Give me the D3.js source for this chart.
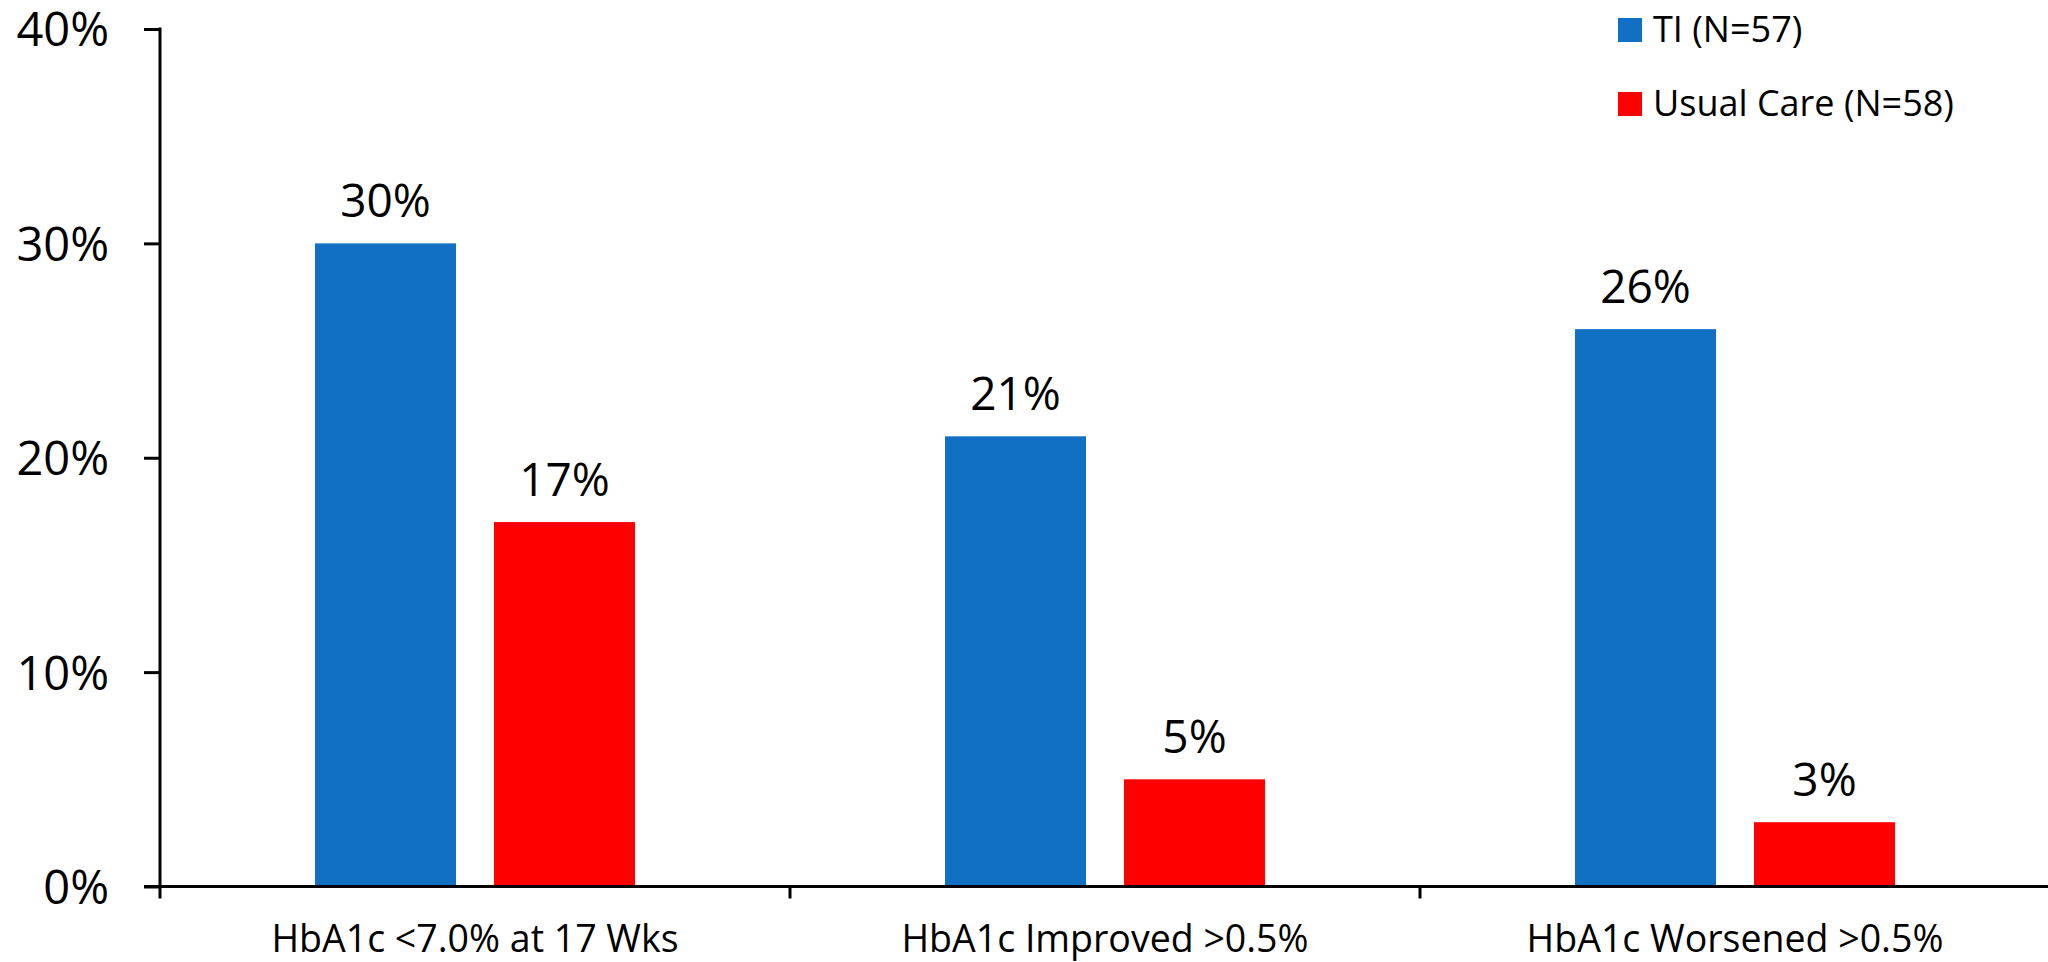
<!DOCTYPE html>
<html>
<head>
<meta charset="utf-8">
<script src="https://cdn.jsdelivr.net/npm/d3@7"></script>
<style>
  html, body { margin: 0; padding: 0; background: #ffffff; }
  svg { display: block; }
  text { font-family: "Open Sans", "Noto Sans", sans-serif; fill: #000; }
</style>
</head>
<body>
<svg id="chart" width="2048" height="962"></svg>
<script>
// Share of patients reaching each HbA1c outcome, by study arm
const categories = ["HbA1c <7.0% at 17 Wks", "HbA1c Improved >0.5%", "HbA1c Worsened >0.5%"];
const seriesNames = ["TI (N=57)", "Usual Care (N=58)"];
const tiValues = [30, 21, 26];
const usualCareValues = [17, 5, 3];
const yTicks = [0, 10, 20, 30, 40];
const seriesColors = ["#1270C4", "#FF0000"];

const seriesValues = [tiValues, usualCareValues];
const rows = categories.map((c, i) => ({
  category: c,
  values: seriesNames.map((s, j) => ({ series: s, value: seriesValues[j][i], color: seriesColors[j] }))
}));

const svg = d3.select("#chart");

const axisX = 160;          // left edge of plot
const plotRight = 2050;
const y = d3.scaleLinear().domain([0, 40]).range([886.5, 29]);
const x0 = d3.scaleBand().domain(categories).range([axisX, plotRight]).paddingInner(0).paddingOuter(0);
const x1 = d3.scaleBand().domain(seriesNames).range([0, x0.bandwidth()])
  .paddingInner(0.2123).paddingOuter(0.866);

// Bars
const groups = svg.append("g").selectAll("g").data(rows).join("g")
  .attr("transform", d => `translate(${x0(d.category)},0)`);

groups.selectAll("rect").data(d => d.values).join("rect")
  .attr("x", d => x1(d.series))
  .attr("y", d => y(d.value))
  .attr("width", x1.bandwidth())
  .attr("height", d => y(0) - y(d.value))
  .attr("fill", d => d.color);

// Value labels above bars
groups.selectAll("text.val").data(d => d.values).join("text")
  .attr("class", "val")
  .attr("x", d => x1(d.series) + x1.bandwidth() / 2)
  .attr("y", d => y(d.value) - 26)
  .attr("text-anchor", "middle")
  .style("font-size", "46px")
  .text(d => d.value + "%");

// Y axis
const yAxis = d3.axisLeft(y).tickValues(yTicks).tickSize(16).tickPadding(35)
  .tickFormat(d => d + "%");
const gy = svg.append("g").attr("transform", `translate(${axisX},0)`).call(yAxis);
gy.select(".domain").remove();
gy.selectAll(".tick line").attr("stroke", "#000").attr("stroke-width", 3);
gy.selectAll(".tick text")
  .attr("fill", "#000")
  .style("font-size", "47px")
  .style("font-family", "'Open Sans', sans-serif")
  .attr("dy", "0.36em");
gy.append("line")
  .attr("x1", 0).attr("x2", 0)
  .attr("y1", y(40) - 1.5).attr("y2", y(0) + 12)
  .attr("stroke", "#000").attr("stroke-width", 3);

// X axis: baseline with dividers between categories
const gx = svg.append("g");
gx.append("line")
  .attr("x1", axisX - 16).attr("x2", plotRight)
  .attr("y1", y(0)).attr("y2", y(0))
  .attr("stroke", "#000").attr("stroke-width", 3);
gx.selectAll("line.div").data(categories.slice(1)).join("line")
  .attr("class", "div")
  .attr("x1", d => x0(d)).attr("x2", d => x0(d))
  .attr("y1", y(0)).attr("y2", y(0) + 12)
  .attr("stroke", "#000").attr("stroke-width", 3);
gx.selectAll("text").data(categories).join("text")
  .attr("x", d => x0(d) + x0.bandwidth() / 2)
  .attr("y", 952)
  .attr("text-anchor", "middle")
  .style("font-size", "37.5px")
  .text(d => d);

// Legend
const legend = svg.append("g").attr("transform", "translate(1618,18)");
const items = legend.selectAll("g").data(seriesNames).join("g")
  .attr("transform", (d, i) => `translate(0,${i * 74})`);
items.append("rect")
  .attr("width", 24).attr("height", 24)
  .attr("fill", (d, i) => seriesColors[i]);
items.append("text")
  .attr("x", 35).attr("y", 24)
  .style("font-size", "36px")
  .text(d => d);
</script>
</body>
</html>
